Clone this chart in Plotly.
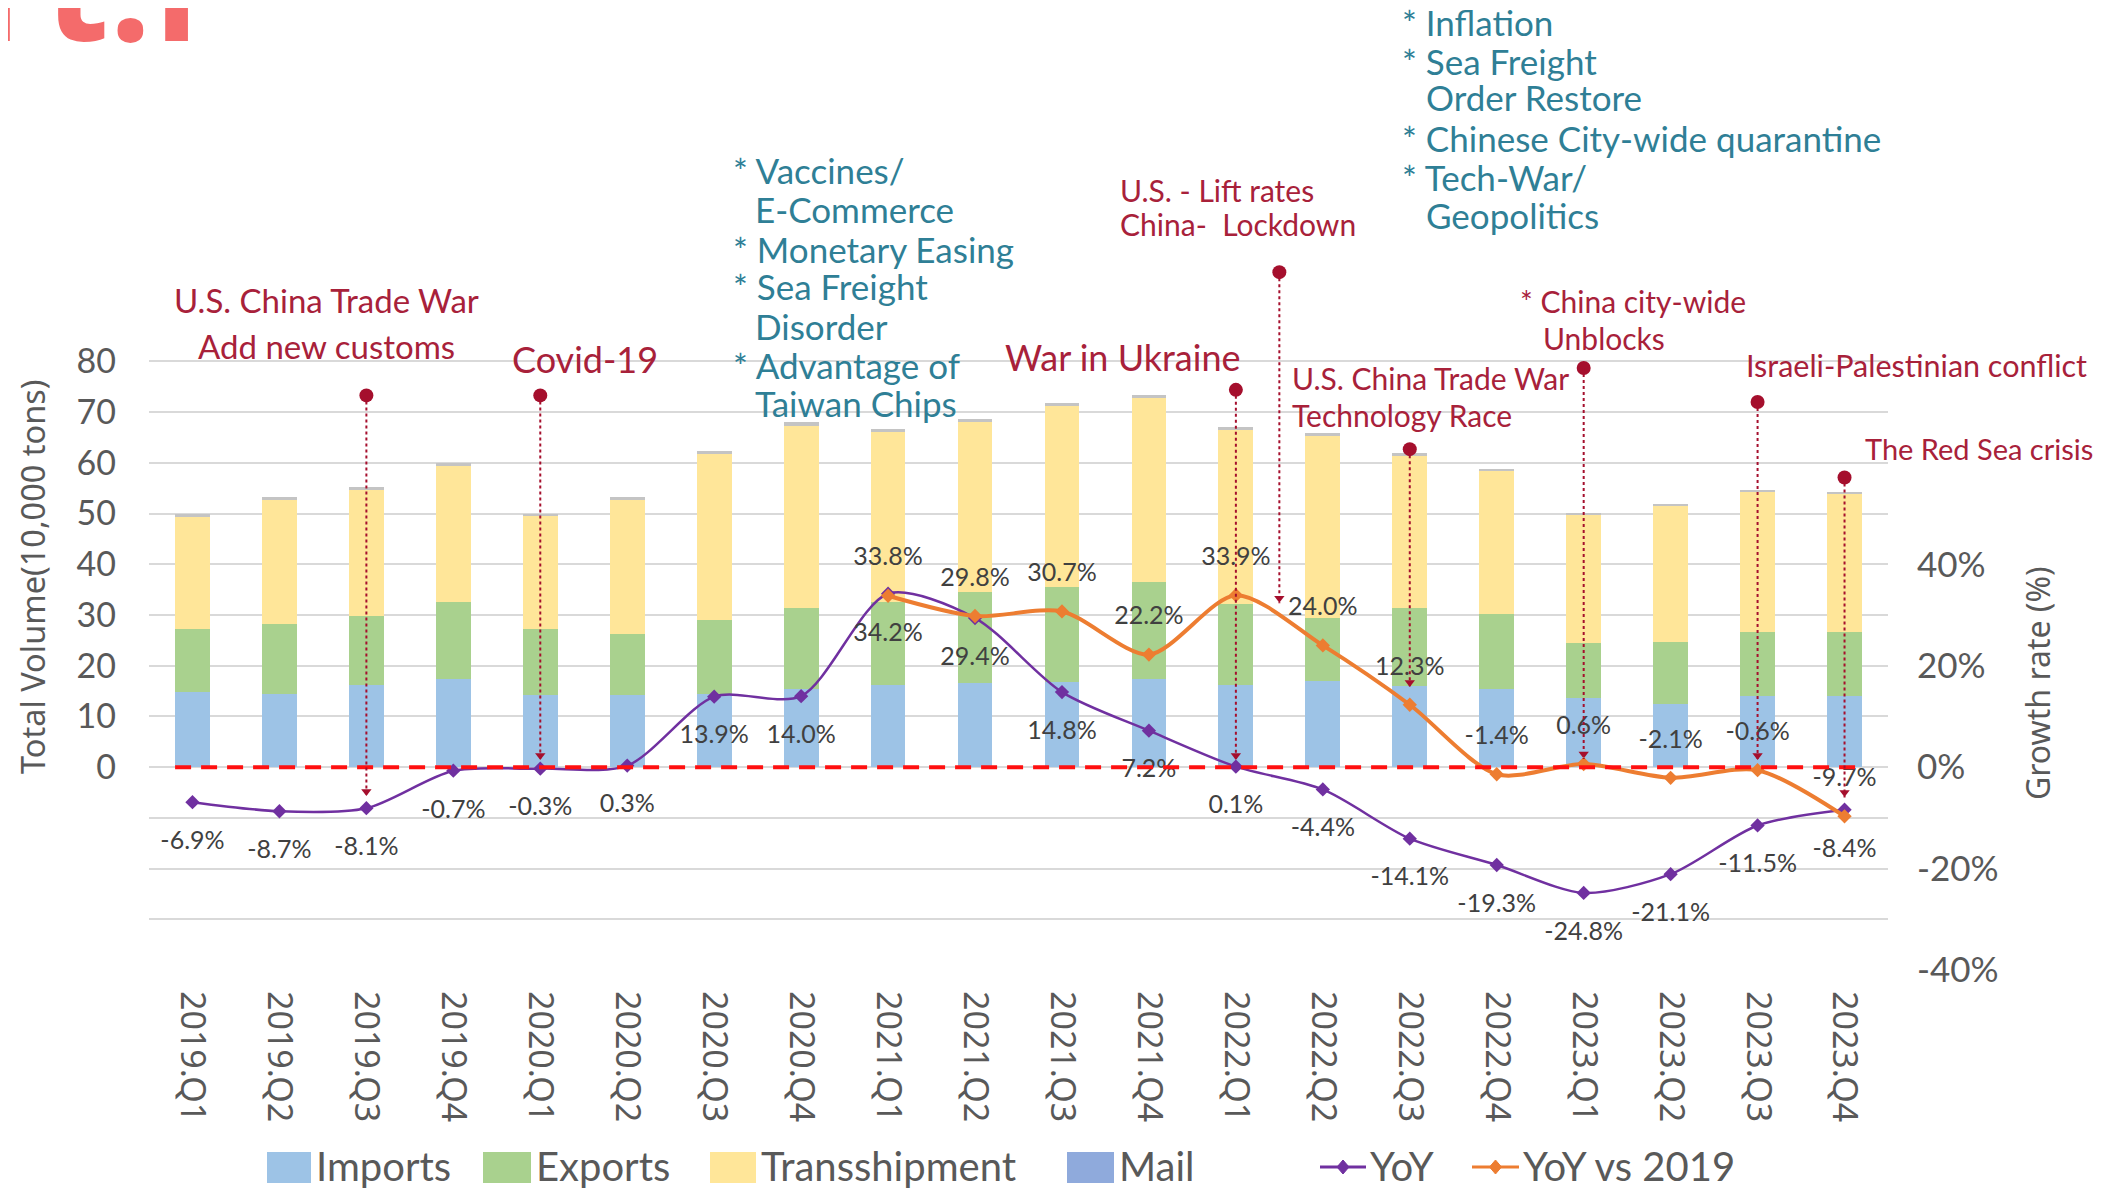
import plotly.graph_objects as go

# ---------------- data ----------------
quarters = ["2019.Q1", "2019.Q2", "2019.Q3", "2019.Q4", "2020.Q1", "2020.Q2", "2020.Q3", "2020.Q4",
            "2021.Q1", "2021.Q2", "2021.Q3", "2021.Q4", "2022.Q1", "2022.Q2", "2022.Q3", "2022.Q4",
            "2023.Q1", "2023.Q2", "2023.Q3", "2023.Q4"]
imports = [14.8, 14.5, 16.1, 17.4, 14.2, 14.2, 14.5, 15.5, 16.1, 16.5,
           16.8, 17.4, 16.1, 17.0, 16.0, 15.5, 13.7, 12.5, 14.0, 14.0]
exports = [12.5, 13.8, 13.7, 15.2, 13.1, 12.1, 14.5, 15.8, 16.5, 18.1,
           18.7, 19.1, 16.1, 12.5, 15.3, 14.6, 10.8, 12.1, 12.7, 12.7]
transshipment = [22.1, 24.3, 24.8, 26.8, 22.2, 26.4, 32.7, 36.0, 33.5, 33.5,
                 35.7, 36.2, 34.3, 35.8, 30.1, 28.2, 25.2, 26.8, 27.5, 27.1]
mail = [0.6, 0.6, 0.7, 0.6, 0.5, 0.6, 0.6, 0.7, 0.6, 0.6,
        0.6, 0.6, 0.5, 0.5, 0.5, 0.5, 0.5, 0.5, 0.5, 0.5]
yoy = [-6.9, -8.7, -8.1, -0.7, -0.3, 0.3, 13.9, 14.0, 34.2, 29.4,
       14.8, 7.2, 0.1, -4.4, -14.1, -19.3, -24.8, -21.1, -11.5, -8.4]
yoy_vs_2019 = [None, None, None, None, None, None, None, None, 33.8, 29.8,
               30.7, 22.2, 33.9, 24.0, 12.3, -1.4, 0.6, -2.1, -0.6, -9.7]

left_ticks = [-40, -30, -20, -10, 0, 10, 20, 30, 40, 50, 60, 70, 80]
left_ticktext = ["", "", "", "", "0", "10", "20", "30", "40", "50", "60", "70", "80"]
right_ticks = [-40, -20, 0, 20, 40]
right_ticktext = ["-40%", "-20%", "0%", "20%", "40%"]

# event pins (x position in quarter index, top dot, arrow tip)
pin_x = [2, 4, 12.5, 12, 14, 16, 18, 19]
pin_top = [73.3, 73.3, 97.6, 74.4, 62.7, 78.7, 72.0, 57.1]
pin_tip = [-5.8, 1.3, 32.3, 1.3, 15.7, 1.6, 1.3, -6.0]

# ---------------- style ----------------
C_IMP, C_EXP, C_TRA, C_MAIL_BAR, C_MAIL = "#9DC3E6", "#A9D18E", "#FFE699", "#C4C4C4", "#8FAADC"
C_YOY, C_VS = "#7030A0", "#ED7D31"
C_RED, C_TEAL, C_PIN = "#A8213A", "#2F7F96", "#A50F2D"
GRAY = "#595959"
FONT = "Lato, 'Open Sans', sans-serif"
NOTO = "'Noto Sans', sans-serif"

OFF = 8  # page body margin
W, H = 2118 - OFF, 1189 - OFF
ML, MR, MT, MB = 149 - OFF, 230, 260 - OFF, 219
PW, PH = W - ML - MR, H - MT - MB


def PX(x):
    return (x - OFF - ML) / PW


def PY(y):
    return (H - MB - (y - OFF)) / PH


idx = list(range(len(quarters)))

fig = go.Figure()
for name, vals, col in [("Imports", imports, C_IMP), ("Exports", exports, C_EXP),
                        ("Transshipment", transshipment, C_TRA), ("Mail", mail, C_MAIL_BAR)]:
    fig.add_trace(go.Bar(x=idx, y=vals, name=name, marker=dict(color=col, line=dict(width=0)),
                         width=0.4, showlegend=False))

fig.add_trace(go.Scatter(x=idx, y=yoy, name="YoY", mode="lines+markers", yaxis="y2",
                         line=dict(color=C_YOY, width=2.5, shape="spline", smoothing=0.8),
                         marker=dict(symbol="diamond", size=11, color=C_YOY), showlegend=False))
fig.add_trace(go.Scatter(x=idx, y=yoy_vs_2019, name="YoY vs 2019", mode="lines+markers", yaxis="y2",
                         line=dict(color=C_VS, width=4, shape="spline", smoothing=0.8),
                         marker=dict(symbol="diamond", size=11, color=C_VS), showlegend=False))

# data labels
fig.add_trace(go.Scatter(x=idx, y=[v - 8.0 for v in yoy], yaxis="y2", mode="text",
                         text=[f"{v:.1f}%" for v in yoy], textfont=dict(family=FONT, size=25, color="#404040"),
                         cliponaxis=False, showlegend=False, hoverinfo="skip"))
fig.add_trace(go.Scatter(x=idx, y=[None if v is None else v + 7.2 for v in yoy_vs_2019], yaxis="y2",
                         mode="text",
                         text=["" if v is None else f"{v:.1f}%" for v in yoy_vs_2019],
                         textfont=dict(family=FONT, size=25, color="#404040"),
                         cliponaxis=False, showlegend=False, hoverinfo="skip"))

# pins
shapes = [dict(type="line", xref="x", yref="y", x0=-0.2, x1=19.2, y0=0, y1=0,
               line=dict(color="#FF1010", width=4, dash="16px,10px"), layer="above")]
for px_, t, b in zip(pin_x, pin_top, pin_tip):
    shapes.append(dict(type="line", xref="x", yref="y", x0=px_, x1=px_, y0=t, y1=b,
                       line=dict(color=C_PIN, width=2, dash="dot"), layer="above"))
fig.add_trace(go.Scatter(x=pin_x, y=pin_top, mode="markers",
                         marker=dict(color=C_PIN, size=14), cliponaxis=False,
                         showlegend=False, hoverinfo="skip"))
fig.add_trace(go.Scatter(x=pin_x, y=[b + 1.0 for b in pin_tip], mode="markers",
                         marker=dict(color=C_PIN, size=9, symbol="triangle-down"), cliponaxis=False,
                         showlegend=False, hoverinfo="skip"))

annotations = []


def ann(text, x, y, size, color, xanchor="left", family=FONT, angle=0):
    annotations.append(dict(text=text, xref="paper", yref="paper", x=PX(x), y=PY(y),
                            xanchor=xanchor, yanchor="middle", showarrow=False, textangle=angle,
                            font=dict(family=family, size=size, color=color)))


# red event labels
ann("U.S. China Trade War", 326, 300, 33, C_RED, "center")
ann("Add new customs", 326, 346, 33, C_RED, "center")
ann("Covid-19", 585, 359, 36, C_RED, "center")
ann("War in Ukraine", 1123, 357, 36, C_RED, "center")
ann("U.S. - Lift rates", 1118, 190, 30, C_RED)
ann("China-\u00a0 Lockdown", 1118, 224, 30, C_RED)
ann("U.S. China Trade War", 1290, 378, 30, C_RED)
ann("Technology Race", 1290, 415, 30, C_RED)
ann("* China city-wide", 1518, 301, 30, C_RED)
ann("Unblocks", 1541, 338, 30, C_RED)
ann("Israeli-Palestinian conflict", 1744, 365, 30.5, C_RED)
ann("The Red Sea crisis", 1863, 448, 29, C_RED)

# teal factor blocks
teal1 = [("* Vaccines/", 731, 170), ("E-Commerce", 753, 209), ("* Monetary Easing", 731, 249),
         ("* Sea Freight", 731, 286), ("Disorder", 753, 326), ("* Advantage of", 731, 365),
         ("Taiwan Chips", 753, 403)]
teal2 = [("* Inflation", 1400, 22), ("* Sea Freight", 1400, 61), ("Order Restore", 1424, 97),
         ("* Chinese City-wide quarantine", 1400, 138), ("* Tech-War/", 1400, 177),
         ("Geopolitics", 1424, 215)]
for t, x, y in teal1 + teal2:
    ann(t, x, y, 35, C_TEAL)

# axis titles
ann("Total Volume(10,000 tons)", 32, 577, 32.5, GRAY, "center", NOTO, -90)
ann("Growth rate (%)", 2037, 683, 32, GRAY, "center", NOTO, -90)

# partial page heading at top-left
annotations.append(dict(text="<b>Part.I</b>", xref="paper", yref="paper", x=PX(203), y=PY(87),
                        xanchor="right", yanchor="bottom", showarrow=False,
                        font=dict(family="'Open Sans', sans-serif", size=150, color="#F46B6B")))

# manual legend
legend_items = [("Imports", C_IMP, 267, 311), ("Exports", C_EXP, 483, 531),
                ("Transshipment", C_TRA, 710, 756), ("Mail", C_MAIL, 1067, 1114)]
for name, col, x0, x1 in legend_items:
    shapes.append(dict(type="rect", xref="paper", yref="paper", x0=PX(x0), x1=PX(x1),
                       y0=PY(1183), y1=PY(1152), fillcolor=col, line=dict(width=0)))
    ann(name, x1 + 3, 1166, 40, GRAY)
for name, col, x0, x1 in [("YoY", C_YOY, 1320, 1366), ("YoY vs 2019", C_VS, 1472, 1519)]:
    shapes.append(dict(type="line", xref="paper", yref="paper", x0=PX(x0), x1=PX(x1),
                       y0=PY(1167), y1=PY(1167), line=dict(color=col, width=3)))
    cx = (x0 + x1) / 2
    shapes.append(dict(type="path", xref="paper", yref="paper",
                       path=f"M {PX(cx - 6)} {PY(1167)} L {PX(cx)} {PY(1160)} L {PX(cx + 6)} {PY(1167)} L {PX(cx)} {PY(1174)} Z",
                       fillcolor=col, line=dict(color=col, width=1)))
    ann(name, x1 + 2, 1166, 40, GRAY)

fig.update_layout(
    width=W, height=H, margin=dict(l=ML, r=MR, t=MT, b=MB, autoexpand=False),
    paper_bgcolor="white", plot_bgcolor="white", barmode="stack", bargap=0.6,
    showlegend=False,
    xaxis=dict(range=[-0.5, 19.5], tickmode="array", tickvals=idx, ticktext=quarters, tickangle=90,
               showgrid=False, zeroline=False, showline=False, ticks="",
               tickfont=dict(family=NOTO, size=34, color=GRAY), ticklabelstandoff=20),
    yaxis=dict(range=[-40, 100], tickmode="array", tickvals=left_ticks, ticktext=left_ticktext,
               showgrid=True, gridcolor="#D9D9D9", gridwidth=1.5, zeroline=False, showline=False,
               tickfont=dict(family=FONT, size=34, color=GRAY), ticklabelstandoff=32),
    yaxis2=dict(range=[-40, 100], overlaying="y", side="right", tickmode="array", tickvals=right_ticks,
                ticktext=right_ticktext, showgrid=False, zeroline=False, showline=False,
                tickfont=dict(family=FONT, size=35, color=GRAY), ticklabelstandoff=28),
    shapes=shapes, annotations=annotations,
)

fig.write_html("out.html")
